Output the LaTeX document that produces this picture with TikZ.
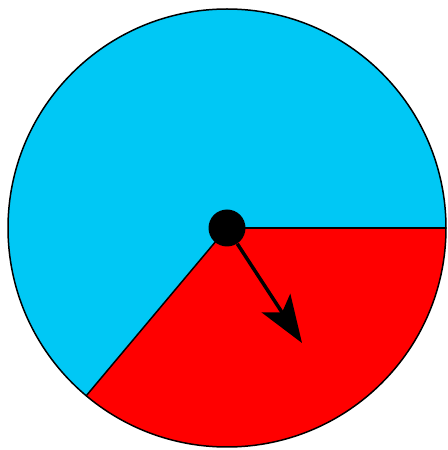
\documentclass[tikz,border=0pt]{standalone}
\usepackage{tikz}
\usepackage{xcolor}
\usetikzlibrary{arrows.meta}

\definecolor{spinblue}{RGB}{0,200,245}
\definecolor{spinred}{RGB}{255,0,0}

\begin{document}
\begin{tikzpicture}[x=0.02cm,y=0.02cm,
    pin/.style={circle,fill=black,inner sep=0pt,minimum size=37*0.02cm},
    pointer/.style={line width=0.07cm,-{Stealth[length=0.95cm,width=0.68cm,inset=0.22cm]}}]
  \useasboundingbox (0,0) rectangle (448,450);
  \coordinate (hub) at (227,222);
  % sectors
  \fill[spinblue] (hub) -- ++(0:219) arc[start angle=0,end angle=230,radius=219] -- cycle;
  \fill[spinred] (hub) -- ++(230:219) arc[start angle=230,end angle=360,radius=219] -- cycle;
  \draw[line width=0.03cm] (hub) circle (219);
  \draw[line width=0.03cm] (hub) -- ++(0:219);
  \draw[line width=0.03cm] (hub) -- ++(230:219);
  % spinner
  \node[pin] (pin) at (hub) {};
  \coordinate (tip) at (302,107);
  \draw[pointer] (pin) -- (tip);
\end{tikzpicture}
\end{document}
